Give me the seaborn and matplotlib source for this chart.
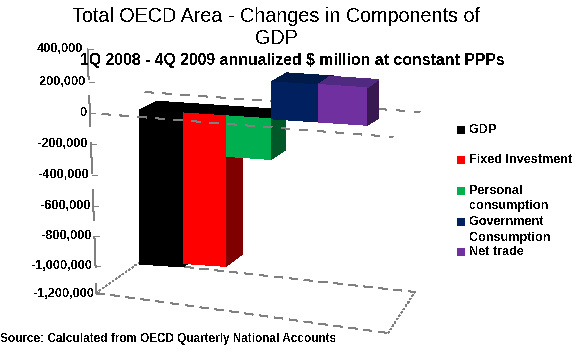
import matplotlib
matplotlib.use("Agg")
import matplotlib.pyplot as plt
import seaborn as sns
from matplotlib.patches import Polygon, Rectangle
from matplotlib.transforms import Affine2D

# ---- data ----
categories = ["GDP", "Fixed Investment", "Personal\nconsumption", "Government\nConsumption", "Net trade"]
values = [-1010000, -987000, -266000, 243000, 246000]
y_ticks = [400000, 200000, 0, -200000, -400000, -600000, -800000, -1000000, -1200000]
y_labels = ["400,000", "200,000", "0", "-200,000", "-400,000", "-600,000", "-800,000", "-1,000,000", "-1,200,000"]

# ---- style ----
face_colors = ["#000000", "#ff0000", "#00b050", "#002060", "#7030a0"]
side_colors = ["#000000", "#800000", "#005828", "#001a4a", "#381850"]
top_colors = ["#000000", "#000000", "#000000", "#001a4a", "#4f2a80"]
bar_left_px = [139, 183, 226, 271, 318]
bar_width_px = [44, 43, 45, 47, 49]
depth_dx_px = [18, 17, 15, 16, 12]
depth_dy_px = [10, 10, 10, 9, 8]
label_right_px = [83, 86, 88, 88, 89, 91, 92, 93, 94]
label_y_px = [49, 82, 113, 144, 175, 206, 236, 266, 294]
legend_y_px = [130, 160, 191, 222, 252]
GRAY = "#808080"
W, H = 587, 354

sns.set_theme(style="white")
plt.rcParams["font.family"] = ["Liberation Sans", "DejaVu Sans"]
plt.rcParams["text.antialiased"] = False
plt.rcParams["lines.scale_dashes"] = False

fig = plt.figure(figsize=(W / 100, H / 100), dpi=100, facecolor="white")
AX_L, AX_R, AX_T, AX_B = 92, 420, 51, 295
ax = fig.add_axes([AX_L / W, 1 - AX_B / H, (AX_R - AX_L) / W, (AX_B - AX_T) / H])
ax.patch.set_alpha(0)
pix = Affine2D().scale(1, -1).translate(0, H)  # image pixels -> display

sns.barplot(x=list(range(5)), y=values, hue=categories, hue_order=categories,
            palette=face_colors, saturation=1, width=1, dodge=False,
            legend=False, ax=ax, zorder=3)
ax.set_xlim(0, AX_R - AX_L)   # x axis in pixels from the wall
ax.set_ylim(-1200000, 400000)
ax.set_xlabel("")
ax.set_ylabel("")
ax.set_xticks([])
for s in ax.spines.values():
    s.set_visible(False)

# shear the bars along the perspective baseline
SLOPE = 0.067
shear = Affine2D.from_values(1, -SLOPE, 0, 1, 0, 2 + SLOPE * 139)
tr = ax.transData + shear
unit = (AX_B - AX_T) / 1600000.0  # px per value unit

bars = [p for p in ax.patches if p.get_height() != 0]
for p, v, l, w, fc in zip(bars, values, bar_left_px, bar_width_px, face_colors):
    p.set_x(l - AX_L)
    p.set_width(w)
    p.set_y(0)
    p.set_height(v)
    p.set_transform(tr)
    p.set_antialiased(False)
    p.set_facecolor(fc)
    p.set_edgecolor("none")
    p.set_linewidth(0)

# depth faces, derived from the same values
for i, (v, l, w) in enumerate(zip(values, bar_left_px, bar_width_px)):
    x0, x1 = l - AX_L, l - AX_L + w
    dx = depth_dx_px[i]
    up0 = depth_dy_px[i] / unit
    upv = (depth_dy_px[i] + 4e-6 * abs(v)) / unit
    top_v = max(v, 0)
    up_top = upv if v > 0 else up0
    top = [(x0, top_v), (x0 + dx, top_v + up_top), (x1 + dx, top_v + up_top), (x1, top_v)]
    ax.add_patch(Polygon(top, closed=True, fc=top_colors[i], ec="none", transform=tr,
                         zorder=2.5 + i * 0.01, antialiased=False))
    low = min(v, 0)
    up_low = upv if v < 0 else up0
    side = [(x1, top_v), (x1 + dx, top_v + up_top), (x1 + dx, low + up_low), (x1, low)]
    ax.add_patch(Polygon(side, closed=True, fc=side_colors[i], ec="none", transform=tr,
                         zorder=2 + i * 0.01, antialiased=False))

# perspective frame (dash lengths in points)
def frame(xs, ys, dashes, z=0.5):
    ax.plot(xs, ys, transform=pix, color=GRAY, lw=0.5, dashes=dashes, zorder=z,
            clip_on=False, antialiased=False)

frame([145, 420], [92, 112], (6, 6.5))          # zero plane, back
frame([102, 393], [114, 137], (6, 6.5), z=5)    # zero plane, front
frame([96, 388], [293, 333], (6, 4.5))          # floor front
frame([140, 415], [262, 292], (6, 4.5))         # floor back
frame([96, 140], [293, 262], (1, 1.5))          # floor left
frame([388, 415], [333, 292], (1, 1.5))         # floor right
frame([87.5, 96.5], [49, 293], (22, 12))        # value axis

ax.set_yticks(y_ticks)
ax.set_yticklabels(y_labels, fontsize=9.2, fontweight="bold", color="black")
ax.tick_params(axis="y", length=0, pad=0, left=False)
for lab, xr, yp in zip(ax.get_yticklabels(), label_right_px, label_y_px):
    lab.set_ha("right")
    lab.set_va("center")
    lab.set_transform(Affine2D().scale(0, 0).translate(xr, H - yp))
    lab.set_clip_on(False)
for i, yp in enumerate(label_y_px):
    x_t = 87.5 + 1.1 * i
    ax.plot([x_t, x_t + 5], [yp, yp], transform=pix, color=GRAY, lw=0.5, zorder=1,
            clip_on=False, antialiased=False)

# titles
fig.text(276 / W, 1 - 17 / H, "Total OECD Area - Changes in Components of", ha="center", va="center",
         fontsize=14.2, color="black")
fig.text(276 / W, 1 - 39 / H, "GDP", ha="center", va="center", fontsize=14.2, color="black")
fig.text(292 / W, 1 - 61 / H, "1Q 2008 - 4Q 2009 annualized $ million at constant PPPs", ha="center", va="center",
         fontsize=11.4, fontweight="bold", color="black", zorder=10)
fig.text(0, 1 - 339 / H, "Source: Calculated from OECD Quarterly National Accounts", ha="left", va="center",
         fontsize=8.5, fontweight="bold", color="black")

# legend
for name, col, yp in zip(categories, face_colors, legend_y_px):
    fig.patches.append(Rectangle((457, H - yp - 4), 8, 8, fc=col, ec="none",
                                 transform=None, figure=fig))
    lines = name.split("\n")
    for k, line in enumerate(lines):
        fig.text(469 / W, 1 - (yp + k * 15.5) / H, line, ha="left", va="center",
                 fontsize=9.1, fontweight="bold", color="black")

fig.savefig("out.png", dpi=100, facecolor="white")
